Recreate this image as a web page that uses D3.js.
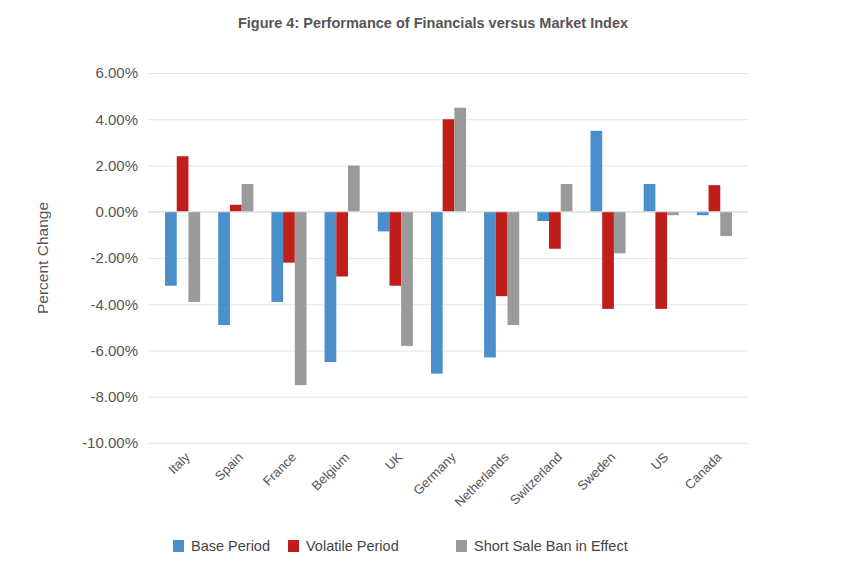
<!DOCTYPE html><html><head><meta charset="utf-8"><script src="https://cdn.jsdelivr.net/npm/d3@7"></script>
<style>body{margin:0;background:#fff;font-family:"Helvetica Neue",Arial,"Liberation Sans",sans-serif}</style></head><body><svg id="c" width="865" height="573"></svg>
<script>
const categories=["Italy","Spain","France","Belgium","UK","Germany","Netherlands","Switzerland","Sweden","US","Canada"];
const seriesNames=["Base Period","Volatile Period","Short Sale Ban in Effect"];
const basePeriod=[-3.2,-4.9,-3.9,-6.5,-0.85,-7.0,-6.3,-0.4,3.5,1.2,-0.15];
const volatilePeriod=[2.4,0.3,-2.2,-2.8,-3.2,4.0,-3.65,-1.6,-4.2,-4.2,1.15];
const shortSaleBan=[-3.9,1.2,-7.5,2.0,-5.8,4.5,-4.9,1.2,-1.8,-0.15,-1.05];
const yTicks=[6,4,2,0,-2,-4,-6,-8,-10];
const colors=["#4a8fcb","#bf1e1b","#9a9a9a"];
const series=[basePeriod,volatilePeriod,shortSaleBan];
const svg=d3.select("#c");
const y=d3.scaleLinear().domain([-10,6]).range([443,73]);
const x=d3.scaleBand().domain(categories).range([156,741]).paddingInner(0.34).paddingOuter(0.17);
const xs=d3.scaleBand().domain([0,1,2]).range([0,x.bandwidth()]);
svg.append("text").attr("x",433).attr("y",28).attr("text-anchor","middle").attr("font-size",14.5).attr("font-weight","bold").attr("fill","#555").text("Figure 4: Performance of Financials versus Market Index");
const ya=svg.append("g").attr("transform","translate(148,0)").call(d3.axisLeft(y).tickValues(yTicks).tickSize(-600).tickFormat(d=>d.toFixed(2)+"%"));
ya.select(".domain").remove();
ya.selectAll("line").attr("stroke","#e6e6e6");
ya.selectAll("text").attr("font-size",15).attr("fill","#555").attr("x",-10);
svg.append("text").attr("transform","translate(48,258) rotate(-90)").attr("text-anchor","middle").attr("font-size",15.5).attr("fill","#555").text("Percent Change");
series.forEach((s,i)=>{
 svg.append("g").selectAll("rect").data(s).join("rect")
 .attr("x",(d,j)=>x(categories[j])+xs(i)).attr("width",xs.bandwidth())
 .attr("y",d=>y(Math.max(0,d))).attr("height",d=>Math.abs(y(d)-y(0))).attr("fill",colors[i]);
});
svg.append("line").attr("x1",148).attr("x2",748).attr("y1",y(0)).attr("y2",y(0)).attr("stroke","#ddd");
svg.append("g").selectAll("text").data(categories).join("text")
 .attr("transform",d=>`translate(${x(d)+x.bandwidth()/2+8},${458}) rotate(-45)`)
 .attr("text-anchor","end").attr("font-size",13).attr("fill","#555").text(d=>d);
const lg=svg.append("g");
const lx=[173,288,456];
seriesNames.forEach((n,i)=>{
 lg.append("rect").attr("x",lx[i]).attr("y",540).attr("width",11).attr("height",12).attr("fill",colors[i]);
 lg.append("text").attr("x",lx[i]+18).attr("y",551).attr("font-size",14.5).attr("fill","#444").text(n);
});
</script></body></html>
